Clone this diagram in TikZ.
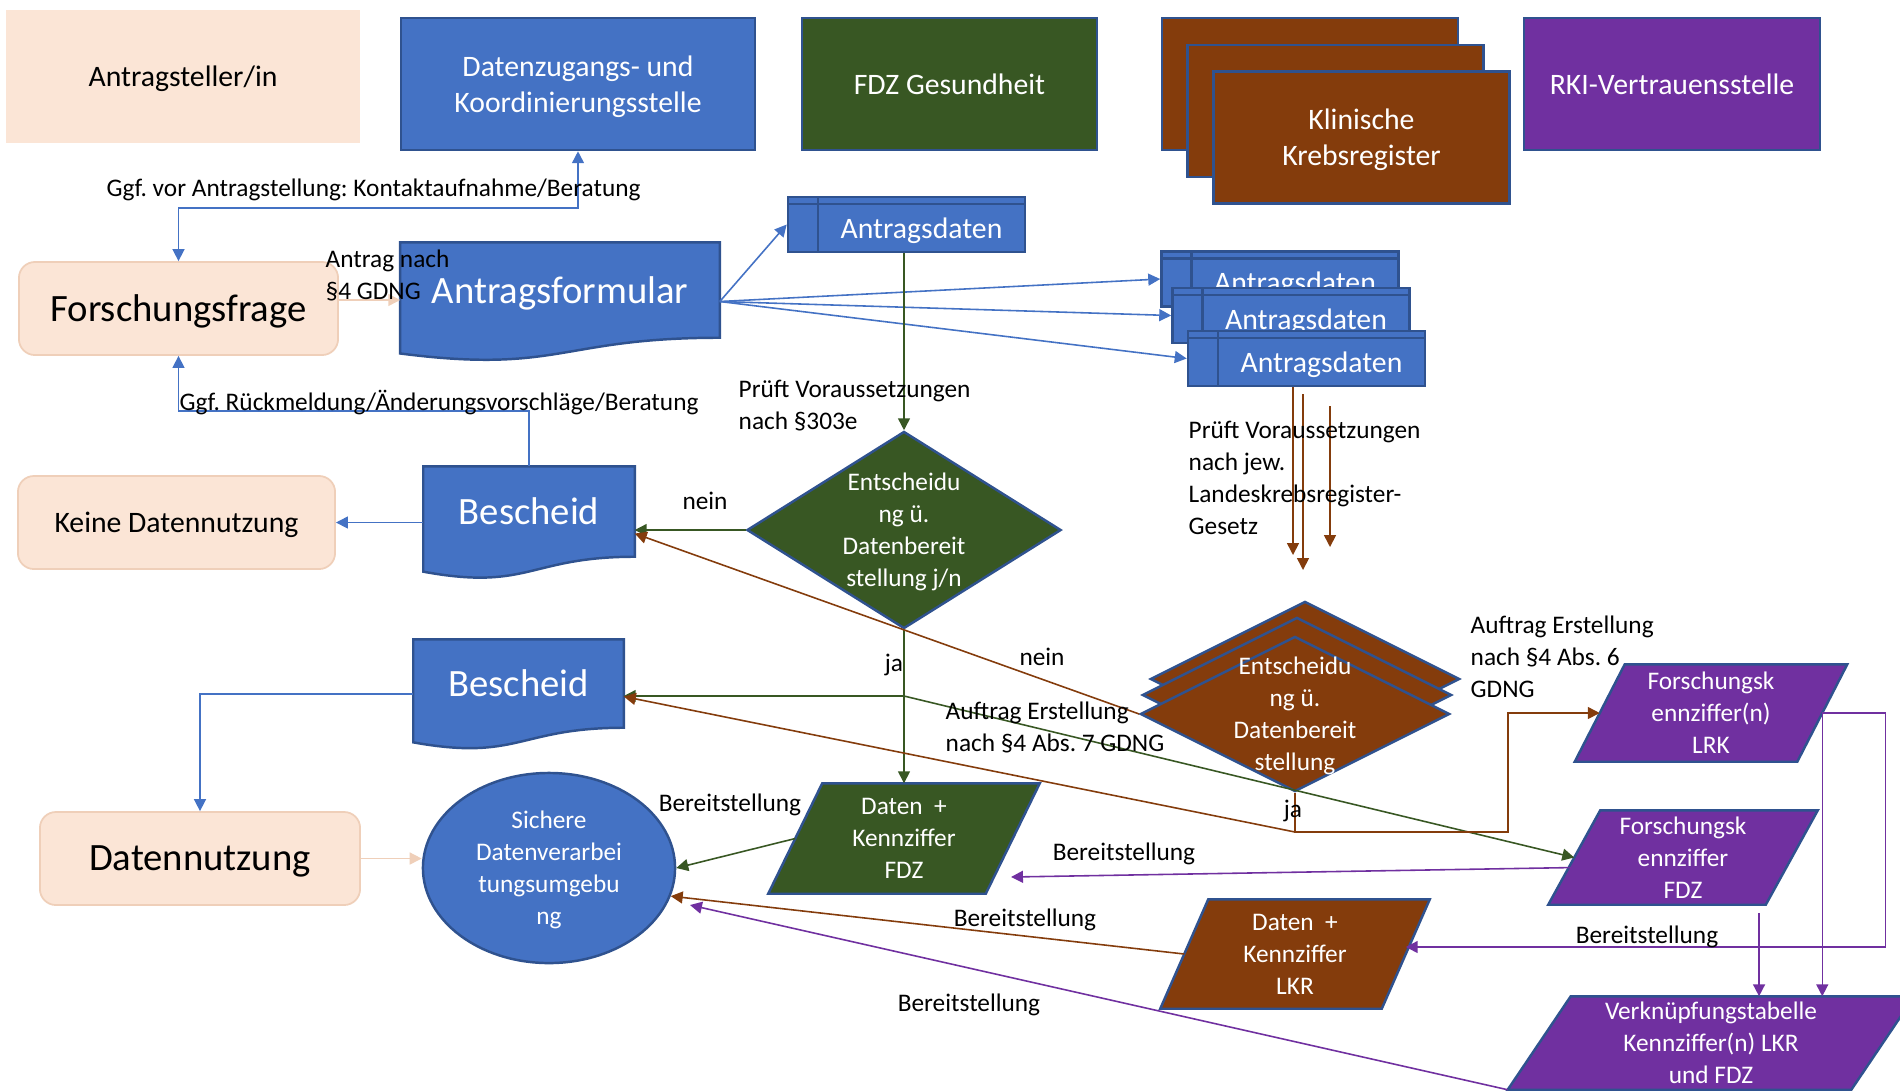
\documentclass[tikz,border=0pt]{standalone}
\usepackage{fontspec}
\setmainfont{Carlito}
\usepackage{xcolor}
\usetikzlibrary{arrows.meta, calc, shapes.geometric}
\frenchspacing

\definecolor{ofblue}{HTML}{4472C4}
\definecolor{ofedge}{HTML}{2F528F}
\definecolor{ofgreen}{HTML}{385723}
\definecolor{ofbrown}{HTML}{843C0C}
\definecolor{ofpurple}{HTML}{7030A0}
\definecolor{ofpeach}{HTML}{FBE5D6}
\definecolor{ofpeachline}{HTML}{EFCFB9}

\pgfdeclarelayer{background}
\pgfsetlayers{background,main}

\newcommand{\bigf}{\fontsize{11}{13.4}\selectfont}
\newcommand{\midf}{\fontsize{8.45}{10.3}\selectfont}
\newcommand{\smallf}{\fontsize{7.2}{9.1}\selectfont}

% document shape (flat top, wavy bottom) behind a node
\newcommand{\docshape}[1]{%
  \begin{pgfonlayer}{background}
  \path[shapeline, fill=ofblue] let \p1=(#1.south west), \p2=(#1.north east) in
    (#1.north west) -- (#1.north east) -- (#1.south east)
    .. controls (0.5*\x1+0.5*\x2, \y1) and (0.5*\x1+0.5*\x2, \y1-0.38*\y2+0.38*\y1)
    .. (\x1, \y1-0.165*\y2+0.165*\y1) -- cycle;
  \end{pgfonlayer}}

% parallelogram behind a node, #2 = half of the slant
\newcommand{\parashape}[3]{%
  \begin{pgfonlayer}{background}
  \path[shapeline, fill=#3] ([xshift=#2]#1.north west) -- ([xshift=#2]#1.north east)
    -- ([xshift=-#2]#1.south east) -- ([xshift=-#2]#1.south west) -- cycle;
  \end{pgfonlayer}}

\begin{document}
\begin{tikzpicture}[x=0.01cm, y=-0.01cm, >={Triangle[length=3.4pt, width=3.4pt]}]
	\tikzset{shapeline/.style = {draw=ofedge, line width=0.7pt}}
	\tikzset{boxsize/.style 2 args = {minimum width=#1cm, minimum height=#2cm}}
	\tikzset{box/.style = {rectangle, inner sep=0pt, align=center, text depth=0pt}}
	\tikzset{peachbox/.style = {box, fill=ofpeach, text=black}}
	\tikzset{roundbox/.style = {peachbox, rounded corners=0.16cm, draw=ofpeachline, line width=0.5pt}}
	\tikzset{colbox/.style = {box, shapeline, fill=#1, text=white, font=\midf}}
	\tikzset{docbox/.style = {box, text=white, font=\bigf}}
	\tikzset{store/.style = {box, shapeline, fill=ofblue, text=white, font=\midf, boxsize={2.37}{0.55},
		text height=7.9pt, execute at begin node={\hspace*{0.3cm}},
		path picture={\draw[ofedge, line width=0.7pt]
			([xshift=0.3cm]path picture bounding box.north west) -- ([xshift=0.3cm]path picture bounding box.south west)
			([yshift=-0.07cm]path picture bounding box.north west) -- ([yshift=-0.07cm]path picture bounding box.north east);}}}
	\tikzset{dia/.style = {diamond, shapeline, fill=#1, inner sep=0pt, boxsize={3.09}{1.55}}}
	\tikzset{dtext/.style = {text=white, font=\smallf, align=center, text depth=0pt}}
	\tikzset{parabox/.style = {box, text=white, font=\smallf}}
	\tikzset{lbl/.style = {font=\smallf, inner sep=0pt, align=left, text depth=0pt}}
	\tikzset{link/.style = {->, line width=0.45pt, draw=#1}}

	\path[use as bounding box] (0,0) rectangle (1900,1090);

	% top row
	\node[peachbox, boxsize={3.54}{1.33}, font=\midf] (app) at (183,76.5) {Antragsteller/in};
	\node[colbox=ofblue, boxsize={3.54}{1.32}] (dks) at (578,84) {Datenzugangs- und\\Koordinierungsstelle};
	\node[colbox=ofgreen, boxsize={2.95}{1.32}] (fdz) at (949.5,84) {FDZ Gesundheit};
	\node[colbox=ofbrown, boxsize={2.96}{1.32}] (kkr1) at (1310,84) {};
	\node[colbox=ofbrown, boxsize={2.96}{1.32}] (kkr2) at (1335.5,111) {};
	\node[colbox=ofbrown, boxsize={2.96}{1.32}] (kkr3) at (1361.5,137.5) {Klinische\\Krebsregister};
	\node[colbox=ofpurple, boxsize={2.96}{1.32}] (rki) at (1672,84) {RKI-Vertrauensstelle};

	% application
	\node[roundbox, boxsize={3.19}{0.93}, font=\bigf] (ff) at (178.5,308.5) {Forschungsfrage};
	\node[docbox, boxsize={3.18}{0.94}] (af) at (560,290) {Antragsformular};
	\docshape{af}
	\node[store] (ad) at (906.5,224.5) {Antragsdaten};
	\node[store] (ad1) at (1280,279) {Antragsdaten};
	\node[store] (ad2) at (1291,315.5) {Antragsdaten};
	\node[store] (ad3) at (1306.5,358.5) {Antragsdaten};

	% decisions
	\node[docbox, boxsize={2.10}{0.89}] (bs1) at (529,511.5) {Bescheid};
	\docshape{bs1}
	\node[roundbox, boxsize={3.17}{0.93}, font=\midf] (kdn) at (176.5,522.5) {Keine Datennutzung};
	\node[dia=ofgreen, boxsize={3.14}{1.97}, label={[dtext]center:Entscheidu\\ng ü.\\Datenbereit\\stellung j/n}] (ent) at (904,530) {};
	\node[dia=ofbrown] (lkr1) at (1305,679) {};
	\node[dia=ofbrown] (lkr2) at (1297,695) {};
	\node[dia=ofbrown, label={[dtext]center:Entscheidu\\ng ü.\\Datenbereit\\stellung}] (lkr3) at (1295,714) {};

	% results
	\node[docbox, boxsize={2.09}{0.87}] (bs2) at (518.5,683.5) {Bescheid};
	\docshape{bs2}
	\node[roundbox, boxsize={3.20}{0.93}, font=\bigf] (dn) at (200,858.5) {Datennutzung};
	\node[ellipse, shapeline, fill=ofblue, text=white, font=\smallf, align=center, inner sep=0pt, text depth=0pt, boxsize={2.52}{1.90}] (sdu) at (549,868) {Sichere\\Datenverarbei\\tungsumgebu\\ng};
	\node[parabox, boxsize={2.16}{1.09}] (dkf) at (904,838.5) {Daten\ \ +\\Kennziffer\\FDZ};
	\parashape{dkf}{0.27cm}{ofgreen}
	\node[parabox, boxsize={2.20}{1.08}] (dkl) at (1295,954) {Daten\ \ +\\Kennziffer\\LKR};
	\parashape{dkl}{0.24cm}{ofbrown}
	\node[parabox, boxsize={2.21}{0.96}] (kzl) at (1711,713) {Forschungsk\\ennziffer(n)\\LRK};
	\parashape{kzl}{0.25cm}{ofpurple}
	\node[parabox, boxsize={2.16}{0.93}] (kzf) at (1683,857.5) {Forschungsk\\ennziffer\\FDZ};
	\parashape{kzf}{0.26cm}{ofpurple}
	\node[parabox, boxsize={3.42}{0.92}] (vkt) at (1711,1043) {Verknüpfungstabelle\\Kennziffer(n) LKR\\und FDZ};
	\begin{pgfonlayer}{background}
	\begin{scope}
		\clip (0,0) rectangle (1900,1090);
		\path[shapeline, fill=ofpurple] ([xshift=0.315cm]vkt.north west) -- ([xshift=0.315cm]vkt.north east)
			-- ([xshift=-0.315cm]vkt.south east) -- ([xshift=-0.315cm]vkt.south west) -- cycle;
	\end{scope}
	\end{pgfonlayer}

	\coordinate (ffr) at ([yshift=0.085cm]ff.east);
	\coordinate (afr) at ([yshift=-0.115cm]af.east);
	\coordinate (bs1l) at ([yshift=-0.11cm]bs1.west);
	\coordinate (bs2l) at ([yshift=-0.105cm]bs2.west);
	\coordinate (jag) at (ent.south |- 0,696);
	\coordinate (jab) at (lkr3.south |- 0,832);
	\coordinate (lt1) at (1293,555);
	\coordinate (lt2) at (1303,570);
	\coordinate (lt3) at (1330,547);
	\coordinate (vktbl) at ([xshift=-0.315cm]vkt.south west);
	\coordinate (sdut) at (690,905);
	\coordinate (dkft) at (1011,877);
	\coordinate (kzfb) at ([xshift=0.76cm, yshift=-0.08cm]kzf.south);

	\draw[link=ofblue, <->] (dks.south) -- ++(0,57) -| (ff.north);
	\draw[link=ofpeachline] (ffr) -- (ffr -| af.west);
	\draw[link=ofblue] (afr) -- (ad.west);
	\draw[link=ofblue] (afr) -- (ad1.west);
	\draw[link=ofblue] (afr) -- (ad2.west);
	\draw[link=ofblue] (afr) -- (ad3.west);

	\draw[link=ofgreen] (ent.north |- ad.south) -- (ent.north);
	\draw[link=ofgreen] (ent.west) -- (ent.west -| bs1.east);
	\draw[link=ofblue] (bs1.north) -- ++(0,-55) -| (ff.south);
	\draw[link=ofblue] (bs1l) -- (bs1l -| kdn.east);

	\draw[link=ofbrown] (lt1 |- ad3.south) -- (lt1);
	\draw[link=ofbrown] (lt2 |- ad3.south) ++(0,7) -- (lt2);
	\draw[link=ofbrown] (lt3 |- ad3.south) ++(0,19) -- (lt3);

	\draw[link=ofgreen] (ent.south) -- (dkf.north);
	\draw[link=ofgreen] (jag) -- (jag -| bs2.east);
	\draw[link=ofgreen] (jag) -- (kzf.west);
	\draw[link=ofbrown] (lkr3.west) -- ([yshift=-0.22cm]bs1.east);
	\draw[link=ofbrown] (lkr3.south) -- (jab) -- ++(213,0) |- (kzl.west);
	\draw[link=ofbrown] (jab) -- ([yshift=-0.13cm]bs2.east);

	\draw[link=ofblue] (bs2l) -| (dn.north);
	\draw[link=ofpeachline] (dn.east) -- (dn.east -| sdu.west);
	\draw[link=ofgreen] (dkf.west) -- (sdu.east);
	\draw[link=ofbrown] (dkl.west) -- (sdu.-13);
	\draw[link=ofpurple] (vktbl) -- (sdut);
	\draw[link=ofpurple] ([yshift=-0.1cm]kzf.west) -- (dkft);
	\draw[link=ofpurple] (kzl.east) -- ++(63,0) |- ([yshift=0.07cm]dkl.east);
	\draw[link=ofpurple] (kzl.east) -- (kzl.east |- vkt.north);
	\draw[link=ofpurple] (kzfb) -- (kzfb |- vkt.north);

	% labels
	\node[lbl, anchor=west] (l_kontakt) at (106,188) {Ggf. vor Antragstellung: Kontaktaufnahme/Beratung};
	\node[lbl, anchor=west] (l_antrag) at (325,274.5) {Antrag nach\\§4 GDNG};
	\node[lbl, anchor=west] (l_rueck) at (179,400) {Ggf. Rückmeldung/Änderungsvorschläge/Beratung};
	\node[lbl, anchor=west] (l_pruef1) at (738,404.5) {Prüft Voraussetzungen\\nach §303e};
	\node[lbl] (l_nein1) at (705,501) {nein};
	\node[lbl, anchor=west] (l_pruef2) at (1188,478) {Prüft Voraussetzungen\\nach jew.\\Landeskrebsregister-\\Gesetz};
	\node[lbl] (l_ja1) at (894,663) {ja};
	\node[lbl] (l_nein2) at (1042,657) {nein};
	\node[lbl, anchor=west] (l_abs7) at (945,727) {Auftrag Erstellung\\nach §4 Abs. 7 GDNG};
	\node[lbl, anchor=west] (l_abs6) at (1470,656.5) {Auftrag Erstellung\\nach §4 Abs. 6\\GDNG};
	\node[lbl] (l_ja2) at (1293,809) {ja};
	\node[lbl] (l_bereit1) at (730,803) {Bereitstellung};
	\node[lbl] (l_bereit2) at (1124,852) {Bereitstellung};
	\node[lbl] (l_bereit3) at (1025,918) {Bereitstellung};
	\node[lbl] (l_bereit4) at (969,1003) {Bereitstellung};
	\node[lbl] (l_bereit5) at (1647,935) {Bereitstellung};
\end{tikzpicture}
\end{document}
